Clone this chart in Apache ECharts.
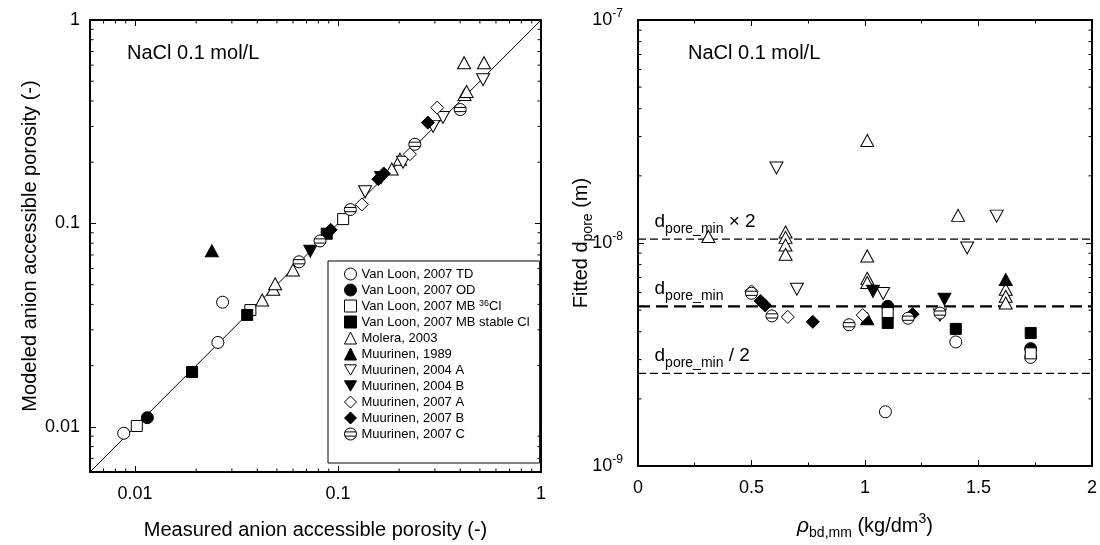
<!DOCTYPE html>
<html>
<head>
<meta charset="utf-8">
<script src="https://cdn.jsdelivr.net/npm/echarts@6/dist/echarts.min.js"></script>
<style>
  html, body { margin: 0; padding: 0; background: #fff; }
  #chart { width: 1100px; height: 545px; }
</style>
</head>
<body>
<div id="chart"></div>
<script>
// ---- Anion accessible porosity: [measured, modeled] ----
const vanLoonTD_por     = [[0.0088, 0.0093], [0.0256, 0.026], [0.027, 0.041]];
const vanLoonOD_por     = [[0.0115, 0.0111]];
const vanLoon36_por     = [[0.0102, 0.0101], [0.037, 0.0375], [0.106, 0.105]];
const vanLoonStable_por = [[0.0191, 0.0186], [0.0357, 0.0355], [0.088, 0.089]];
const molera_por        = [[0.0423, 0.042], [0.048, 0.0475], [0.049, 0.0505], [0.060, 0.059],
                           [0.184, 0.185], [0.202, 0.207], [0.42, 0.43], [0.43, 0.445],
                           [0.418, 0.617], [0.524, 0.617]];
const muurinen1989_por  = [[0.0239, 0.0734]];
const muurinen2004A_por = [[0.136, 0.143], [0.209, 0.20], [0.294, 0.30], [0.329, 0.332], [0.518, 0.509]];
const muurinen2004B_por = [[0.073, 0.073], [0.163, 0.168]];
const muurinen2007A_por = [[0.131, 0.124], [0.226, 0.219], [0.308, 0.371]];
const muurinen2007B_por = [[0.092, 0.093], [0.158, 0.165], [0.168, 0.176], [0.277, 0.313]];
const muurinen2007C_por = [[0.0643, 0.0648], [0.0815, 0.082], [0.115, 0.117], [0.239, 0.245], [0.40, 0.363]];

// ---- Fitted pore diameter: [dry density (kg/dm3), d_pore (m)] ----
const vanLoonTD_dp     = [[1.09, 1.75e-9], [1.40, 3.6e-9], [1.73, 3.07e-9]];
const vanLoonOD_dp     = [[1.10, 5.2e-9], [1.73, 3.36e-9]];
const vanLoon36_dp     = [[1.10, 4.85e-9], [1.73, 3.2e-9]];
const vanLoonStable_dp = [[1.10, 4.38e-9], [1.40, 4.12e-9], [1.73, 3.95e-9]];
const molera_dp        = [[0.31, 1.07e-8], [0.65, 1.12e-8], [0.65, 1.06e-8], [0.65, 9.8e-9], [0.65, 8.9e-9],
                          [1.01, 2.88e-8], [1.01, 8.75e-9], [1.01, 6.95e-9], [1.01, 6.65e-9],
                          [1.41, 1.33e-8], [1.62, 6.2e-9], [1.62, 5.77e-9], [1.62, 5.38e-9]];
const muurinen1989_dp  = [[1.62, 6.86e-9], [1.01, 4.57e-9]];
const muurinen2004A_dp = [[0.61, 2.17e-8], [0.70, 6.2e-9], [1.08, 5.94e-9], [1.45, 9.5e-9], [1.58, 1.32e-8], [1.33, 4.75e-9]];
const muurinen2004B_dp = [[1.035, 6.07e-9], [1.35, 5.6e-9]];
const muurinen2007A_dp = [[0.50, 6.07e-9], [0.66, 4.66e-9], [0.99, 4.75e-9]];
const muurinen2007B_dp = [[0.54, 5.5e-9], [0.56, 5.25e-9], [0.77, 4.43e-9], [1.21, 4.8e-9]];
const muurinen2007C_dp = [[0.50, 5.95e-9], [0.59, 4.71e-9], [0.93, 4.3e-9], [1.19, 4.6e-9], [1.33, 4.85e-9]];

// Minimum pore diameter and the guide levels drawn around it
const dPoreMin = 5.2e-9;
const guideFactors = [2, 1, 0.5];

// Axis ranges and minor tick values for the logarithmic axes
const porRange = [0.006, 1];
const dpRange = [1e-9, 1e-7];
const densityRange = [0, 2];
const porMinorTicks = [0.007, 0.008, 0.009, 0.02, 0.03, 0.04, 0.05, 0.06, 0.07, 0.08, 0.09,
                       0.2, 0.3, 0.4, 0.5, 0.6, 0.7, 0.8, 0.9];
const dpMinorTicks = [2e-9, 3e-9, 4e-9, 5e-9, 6e-9, 7e-9, 8e-9, 9e-9,
                      2e-8, 3e-8, 4e-8, 5e-8, 6e-8, 7e-8, 8e-8, 9e-8];

const FONT = "'Liberation Sans', Arial, Helvetica, sans-serif";
const STRIPED = 'path://M10,0A10,10,0,1,1,-10,0A10,10,0,1,1,10,0ZM-9.37,-3.5L9.37,-3.5M-9.37,3.5L9.37,3.5';
const DOWN_TRIANGLE = 'path://M0,0L10,0L5,8.66Z';

// axis indices: 0 = porosity plot, 2 = pore diameter plot (1 and 3 are the mirrored frames)
const POR = 0, DP = 2;

const groups = [
  { name: 'Van Loon, 2007 TD',           por: vanLoonTD_por,     dp: vanLoonTD_dp,     symbol: 'circle',      size: 12, fill: '#fff' },
  { name: 'Van Loon, 2007 OD',           por: vanLoonOD_por,     dp: vanLoonOD_dp,     symbol: 'circle',      size: 12, fill: '#000' },
  { name: 'Van Loon, 2007 MB 36Cl',      por: vanLoon36_por,     dp: vanLoon36_dp,     symbol: 'rect',        size: 11, fill: '#fff' },
  { name: 'Van Loon, 2007 MB stable Cl', por: vanLoonStable_por, dp: vanLoonStable_dp, symbol: 'rect',        size: 11, fill: '#000' },
  { name: 'Molera, 2003',                por: molera_por,        dp: molera_dp,        symbol: 'triangle',    size: [13, 12], fill: '#fff' },
  { name: 'Muurinen, 1989',              por: muurinen1989_por,  dp: muurinen1989_dp,  symbol: 'triangle',    size: [13, 12], fill: '#000' },
  { name: 'Muurinen, 2004 A',            por: muurinen2004A_por, dp: muurinen2004A_dp, symbol: DOWN_TRIANGLE, size: [13, 12], fill: '#fff' },
  { name: 'Muurinen, 2004 B',            por: muurinen2004B_por, dp: muurinen2004B_dp, symbol: DOWN_TRIANGLE, size: [13, 12], fill: '#000' },
  { name: 'Muurinen, 2007 A',            por: muurinen2007A_por, dp: muurinen2007A_dp, symbol: 'diamond',     size: 13, fill: '#fff' },
  { name: 'Muurinen, 2007 B',            por: muurinen2007B_por, dp: muurinen2007B_dp, symbol: 'diamond',     size: 13, fill: '#000' },
  { name: 'Muurinen, 2007 C',            por: muurinen2007C_por, dp: muurinen2007C_dp, symbol: STRIPED,       size: 12, fill: '#fff' }
];

function scatterSeries(g, data, axisIdx) {
  return {
    type: 'scatter', name: g.name, data: data,
    xAxisIndex: axisIdx, yAxisIndex: axisIdx,
    symbol: g.symbol, symbolSize: g.size,
    itemStyle: { color: g.fill, borderColor: '#000', borderWidth: 1, opacity: 1 },
    emphasis: { disabled: true }, z: 3
  };
}

// short inward ticks on both sides of a log axis, placed through the axis scale
function minorTickSeries(axisIdx, dim, values, other, len) {
  return {
    type: 'custom', xAxisIndex: axisIdx, yAxisIndex: axisIdx, silent: true, z: 6, clip: false,
    data: values.map(v => dim === 'x' ? [v, other] : [other, v]),
    renderItem(params, api) {
      const cs = params.coordSys;
      const p = api.coord([api.value(0), api.value(1)]);
      const st = { stroke: '#000', lineWidth: 1 };
      if (dim === 'x') {
        const b = cs.y + cs.height, t = cs.y;
        return { type: 'group', children: [
          { type: 'line', shape: { x1: p[0], y1: b, x2: p[0], y2: b - len }, style: st },
          { type: 'line', shape: { x1: p[0], y1: t, x2: p[0], y2: t + len }, style: st }
        ]};
      }
      const l = cs.x, r = cs.x + cs.width;
      return { type: 'group', children: [
        { type: 'line', shape: { x1: l, y1: p[1], x2: l + len, y2: p[1] }, style: st },
        { type: 'line', shape: { x1: r, y1: p[1], x2: r - len, y2: p[1] }, style: st }
      ]};
    }
  };
}

const axisLine = { show: true, onZero: false, lineStyle: { color: '#000', width: 2 } };
const majorTick = { show: true, inside: true, length: 6, lineStyle: { color: '#000', width: 1 } };
const tickFont = { fontSize: 18, fontFamily: FONT, color: '#000' };

function decadeLabel(v) {
  const lg = Math.log10(v), e = Math.round(lg);
  if (Math.abs(lg - e) > 1e-6) return '';
  return String(Math.pow(10, e));
}
function powerLabel(v) {
  const lg = Math.log10(v), e = Math.round(lg);
  if (Math.abs(lg - e) > 1e-6) return '';
  return '{b|10}{s|' + e + '}';
}

function logAxis(gridIndex, position, showLabel, name, nameGap) {
  return {
    type: 'log', logBase: 10, gridIndex, position, min: porRange[0], max: porRange[1],
    axisLine, axisTick: majorTick, splitLine: { show: false },
    axisLabel: { show: showLabel, margin: position === 'bottom' ? 13 : 10, formatter: decadeLabel, ...tickFont },
    name: name || '', nameLocation: 'middle', nameGap: nameGap || 0, nameMoveOverlap: false,
    nameTextStyle: { fontSize: 20, fontFamily: FONT, color: '#000' }
  };
}

const xAxes = [
  logAxis(0, 'bottom', true, 'Measured anion accessible porosity (-)', 48),
  logAxis(0, 'top', false),
  {
    type: 'value', gridIndex: 1, position: 'bottom', min: densityRange[0], max: densityRange[1], interval: 0.5,
    axisLine, axisTick: majorTick, splitLine: { show: false },
    minorTick: { show: true, splitNumber: 2, length: 3.5, lineStyle: { color: '#000', width: 1 } },
    axisLabel: { show: true, margin: 13, ...tickFont },
    name: '{i|\u03c1}{sub|bd,mm} (kg/dm{sup|3})', nameLocation: 'middle', nameGap: 46, nameMoveOverlap: false,
    nameTextStyle: {
      fontSize: 20, fontFamily: FONT, color: '#000', lineHeight: 28,
      rich: {
        i: { fontSize: 21, fontStyle: 'italic', fontFamily: FONT, color: '#000', lineHeight: 28 },
        sub: { fontSize: 14, fontFamily: FONT, color: '#000', verticalAlign: 'bottom', lineHeight: 15 },
        sup: { fontSize: 14, fontFamily: FONT, color: '#000', verticalAlign: 'top', lineHeight: 15 }
      }
    }
  },
  {
    type: 'value', gridIndex: 1, position: 'top', min: densityRange[0], max: densityRange[1], interval: 0.5,
    axisLine, axisTick: majorTick, splitLine: { show: false },
    minorTick: { show: true, splitNumber: 2, length: 3.5, lineStyle: { color: '#000', width: 1 } },
    axisLabel: { show: false }
  }
];

const yAxes = [
  logAxis(0, 'left', true, 'Modeled anion accessible porosity (-)', 50),
  logAxis(0, 'right', false),
  {
    type: 'log', logBase: 10, gridIndex: 1, position: 'left', min: dpRange[0], max: dpRange[1],
    axisLine, axisTick: majorTick, splitLine: { show: false },
    axisLabel: {
      show: true, margin: 15, formatter: powerLabel, ...tickFont,
      rich: {
        b: { fontSize: 18, fontFamily: FONT, color: '#000', lineHeight: 24 },
        s: { fontSize: 12, fontFamily: FONT, color: '#000', verticalAlign: 'top', lineHeight: 12 }
      }
    },
    name: 'Fitted d{sub|pore} (m)', nameLocation: 'middle', nameGap: 43, nameMoveOverlap: false,
    nameTextStyle: {
      fontSize: 20, fontFamily: FONT, color: '#000', lineHeight: 28,
      rich: { sub: { fontSize: 14, fontFamily: FONT, color: '#000', verticalAlign: 'bottom', lineHeight: 15 } }
    }
  },
  {
    type: 'log', logBase: 10, gridIndex: 1, position: 'right', min: dpRange[0], max: dpRange[1],
    axisLine, axisTick: majorTick, splitLine: { show: false }, axisLabel: { show: false }
  }
];

const series = [];

// 1:1 line across the porosity plot
series.push({
  type: 'line', data: [[porRange[0], porRange[0]], [porRange[1], porRange[1]]],
  xAxisIndex: POR, yAxisIndex: POR, symbol: 'none', silent: true, z: 2,
  lineStyle: { color: '#000', width: 1 }
});

groups.forEach(g => series.push(scatterSeries(g, g.por, POR)));

// guide lines at d_pore_min x2, x1, /2
guideFactors.forEach(f => {
  const v = dPoreMin * f;
  series.push({
    type: 'line', data: [[densityRange[0], v], [densityRange[1], v]],
    xAxisIndex: DP, yAxisIndex: DP, symbol: 'none', silent: true, z: 2,
    lineStyle: f === 1
      ? { color: '#000', width: 2.4, type: [12, 6] }
      : { color: '#000', width: 1.3, type: [8, 4] }
  });
});

groups.forEach(g => series.push(scatterSeries(g, g.dp, DP)));

// labels for the guide lines
const guideText = {
  2: '{d|d}{sub|pore_min}{d| \u00d7 2}',
  1: '{d|d}{sub|pore_min}',
  0.5: '{d|d}{sub|pore_min}{d| / 2}'
};
series.push({
  type: 'scatter', xAxisIndex: DP, yAxisIndex: DP, silent: true, z: 4,
  symbol: 'circle', symbolSize: 1, itemStyle: { color: '#fff', opacity: 0 },
  data: guideFactors.map(f => ({ value: [0.075, dPoreMin * f], text: guideText[f] })),
  label: {
    show: true, position: [0, 0], align: 'left', verticalAlign: 'bottom', offset: [0, -3],
    color: '#000', textBorderWidth: 0, opacity: 1,
    formatter: p => p.data.text,
    rich: {
      d: { fontSize: 19, fontFamily: FONT, color: '#000', lineHeight: 28, textBorderWidth: 0 },
      sub: { fontSize: 14, fontFamily: FONT, color: '#000', verticalAlign: 'bottom', lineHeight: 14, textBorderWidth: 0 }
    }
  }
});

series.push(minorTickSeries(POR, 'x', porMinorTicks, porRange[0], 3.5));
series.push(minorTickSeries(POR, 'y', porMinorTicks, porRange[0], 3.5));
series.push(minorTickSeries(DP, 'y', dpMinorTicks, densityRange[0], 3.5));

const option = {
  animation: false,
  backgroundColor: '#fff',
  textStyle: { fontFamily: FONT },
  title: [
    { text: 'NaCl 0.1 mol/L', left: 127, top: 43, padding: 0,
      textStyle: { fontSize: 20, fontWeight: 'normal', fontFamily: FONT, color: '#000' } },
    { text: 'NaCl 0.1 mol/L', left: 688, top: 43, padding: 0,
      textStyle: { fontSize: 20, fontWeight: 'normal', fontFamily: FONT, color: '#000' } }
  ],
  grid: [
    { left: 90, top: 20, width: 451, height: 453 },
    { left: 638, top: 20, width: 454, height: 452 }
  ],
  legend: {
    orient: 'vertical', left: 328, top: 261,
    padding: [6, 10, 22, 16], itemGap: 2, itemWidth: 12, itemHeight: 12,
    borderColor: '#000', borderWidth: 1, backgroundColor: '#fff',
    selectedMode: false,
    itemStyle: { borderWidth: 1, borderColor: '#000' },
    data: groups.map(g => g.name),
    formatter: name => name.replace('36Cl', '{sup|36}Cl'),
    textStyle: {
      fontSize: 13, fontFamily: FONT, color: '#000', lineHeight: 14,
      rich: { sup: { fontSize: 9, fontFamily: FONT, color: '#000', verticalAlign: 'top', lineHeight: 9 } }
    }
  },
  xAxis: xAxes,
  yAxis: yAxes,
  series
};

const chart = echarts.init(document.getElementById('chart'), null, { renderer: 'canvas' });
chart.setOption(option);
</script>
</body>
</html>
